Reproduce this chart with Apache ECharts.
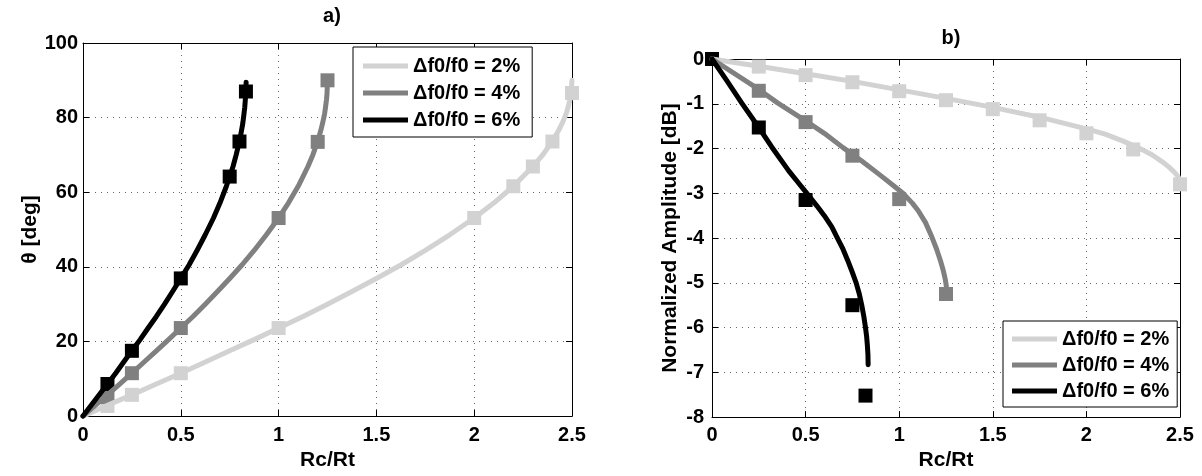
<!DOCTYPE html>
<html>
<head>
<meta charset="utf-8">
<script src="https://cdn.jsdelivr.net/npm/echarts@6/dist/echarts.min.js"></script>
<style>
  html, body { margin: 0; padding: 0; background: #fff; }
  #chart { width: 1202px; height: 476px; }
</style>
</head>
<body>
<div id="chart"></div>
<script>
// Series names (legend entries)
const names = ['Δf0/f0 = 2%', 'Δf0/f0 = 4%', 'Δf0/f0 = 6%'];

// Axis ticks
const rcTicks = [0, 0.5, 1, 1.5, 2, 2.5];
const thetaTicks = [0, 20, 40, 60, 80, 100];
const ampTicks = [-8, -7, -6, -5, -4, -3, -2, -1, 0];

// a) theta vs Rc/Rt — model curves
const thetaLine2 = [[0,0],[0.125,2.9],[0.25,5.7],[0.375,8.6],[0.5,11.5],[0.625,14.5],[0.75,17.5],[0.875,20.5],[1,23.6],[1.125,26.7],[1.25,30],[1.375,33.4],[1.5,36.9],[1.625,40.5],[1.75,44.4],[1.875,48.6],[2,53.1],[2.1,57.1],[2.2,61.6],[2.3,66.9],[2.35,70],[2.4,73.7],[2.43,76.4],[2.45,78.5],[2.47,81],[2.48,82.8],[2.49,84.9],[2.495,86.4],[2.5,90]];
const thetaLine4 = [[0,0],[0.0625,2.9],[0.125,5.7],[0.1875,8.6],[0.25,11.5],[0.3125,14.5],[0.375,17.5],[0.4375,20.5],[0.5,23.6],[0.5625,26.7],[0.625,30],[0.6875,33.4],[0.75,36.9],[0.8125,40.5],[0.875,44.4],[0.9375,48.6],[1,53.1],[1.05,57.1],[1.1,61.6],[1.15,66.9],[1.175,70],[1.2,73.7],[1.215,76.4],[1.225,78.5],[1.235,81],[1.24,82.8],[1.245,84.9],[1.2475,86.4],[1.25,90]];
const thetaLine6 = [[0,0],[0.042,2.9],[0.083,5.7],[0.125,8.6],[0.167,11.5],[0.208,14.5],[0.25,17.5],[0.292,20.5],[0.333,23.6],[0.375,26.7],[0.417,30],[0.458,33.4],[0.5,36.9],[0.542,40.5],[0.583,44.4],[0.625,48.6],[0.667,53.1],[0.7,57.1],[0.733,61.6],[0.767,66.9],[0.783,70],[0.8,73.7],[0.81,76.4],[0.817,78.5],[0.823,81],[0.827,82.8],[0.83,84.9],[0.832,86.4],[0.834,89.5]];

// a) theta vs Rc/Rt — measured points
const thetaPts2 = [[0.125,2.7],[0.25,5.7],[0.5,11.5],[1,23.6],[2,53.1],[2.2,61.6],[2.3,66.9],[2.4,73.6],[2.5,86.6]];
const thetaPts4 = [[0.125,5.1],[0.25,11.5],[0.5,23.6],[1,53.1],[1.2,73.5],[1.25,90]];
const thetaPts6 = [[0.125,8.6],[0.25,17.5],[0.5,36.9],[0.75,64.2],[0.8,73.6],[0.833,87]];

// b) normalized amplitude vs Rc/Rt — model curves
const ampLine2 = [[0,0],[0.25,-0.16],[0.5,-0.33],[0.75,-0.5],[1,-0.69],[1.25,-0.88],[1.5,-1.08],[1.75,-1.3],[2,-1.56],[2.1,-1.68],[2.2,-1.84],[2.3,-2.03],[2.35,-2.14],[2.4,-2.28],[2.44,-2.41],[2.47,-2.53],[2.49,-2.63],[2.5,-2.72]];
const ampLine4 = [[0,0],[0.25,-0.68],[0.35,-0.98],[0.5,-1.38],[0.6,-1.66],[0.7,-1.98],[0.8,-2.28],[0.9,-2.6],[0.97,-2.83],[1.02,-3],[1.07,-3.22],[1.1,-3.38],[1.14,-3.65],[1.17,-3.93],[1.2,-4.25],[1.22,-4.5],[1.235,-4.72],[1.245,-4.9],[1.25,-5.02],[1.253,-5.12]];
const ampLine6 = [[0,0],[0.08,-0.49],[0.16,-0.99],[0.24,-1.47],[0.32,-1.97],[0.41,-2.5],[0.46,-2.76],[0.51,-3.02],[0.56,-3.28],[0.6,-3.5],[0.64,-3.75],[0.67,-4],[0.7,-4.25],[0.725,-4.5],[0.75,-4.77],[0.77,-5],[0.787,-5.25],[0.8,-5.5],[0.811,-5.75],[0.82,-6],[0.826,-6.2],[0.83,-6.4],[0.833,-6.6],[0.834,-6.83]];

// b) normalized amplitude vs Rc/Rt — measured points
const ampPts2 = [[0,0],[0.25,-0.17],[0.5,-0.36],[0.75,-0.52],[1,-0.72],[1.25,-0.92],[1.5,-1.12],[1.75,-1.37],[2,-1.66],[2.25,-2.02],[2.5,-2.8]];
const ampPts4 = [[0,0],[0.25,-0.71],[0.5,-1.41],[0.75,-2.16],[1,-3.13],[1.25,-5.25]];
const ampPts6 = [[0,0],[0.25,-1.53],[0.5,-3.15],[0.75,-5.5],[0.82,-7.52]];

const colors = ['#d2d2d2', '#808080', '#000000'];
const FONT = '"Liberation Sans", Arial, Helvetica, sans-serif';
const LINE_W = 5;
const MARK = 14;

function span(ticks) {
  return { min: ticks[0], max: ticks[ticks.length - 1], interval: ticks[1] - ticks[0] };
}

function labelStyle(margin) {
  return { color: '#000', fontFamily: FONT, fontWeight: 'bold', fontSize: 20, margin: margin };
}

function mainAxis(ticks, gridIndex, pos, extra) {
  const s = span(ticks);
  return Object.assign({
    type: 'value', gridIndex: gridIndex, position: pos,
    min: s.min, max: s.max, interval: s.interval,
    axisLine: { show: true, onZero: false, lineStyle: { color: '#000', width: 1 } },
    axisTick: { show: true, inside: true, length: 6, lineStyle: { color: '#000' } },
    axisLabel: labelStyle(6),
    splitLine: { show: true, lineStyle: { color: '#666', width: 1, type: [1, 5] } },
    nameTextStyle: { color: '#000', fontFamily: FONT, fontWeight: 'bold', fontSize: 21 },
    nameLocation: 'middle'
  }, extra || {});
}

function mirrorAxis(ticks, gridIndex, pos) {
  const s = span(ticks);
  return {
    type: 'value', gridIndex: gridIndex, position: pos,
    min: s.min, max: s.max, interval: s.interval,
    axisLine: { show: true, onZero: false, lineStyle: { color: '#000', width: 1 } },
    axisTick: { show: true, inside: true, length: 6, lineStyle: { color: '#000' } },
    axisLabel: { show: false },
    splitLine: { show: false }
  };
}

function lineSeries(name, data, color, xi, yi) {
  return {
    name: name, type: 'line', data: data, xAxisIndex: xi, yAxisIndex: yi,
    showSymbol: false, smooth: false, clip: false,
    lineStyle: { color: color, width: LINE_W, cap: 'round', join: 'round' },
    itemStyle: { color: color }, animation: false, silent: true
  };
}

function pointSeries(data, color, xi, yi) {
  return {
    type: 'scatter', data: data, xAxisIndex: xi, yAxisIndex: yi,
    symbol: 'rect', symbolSize: MARK, clip: false,
    itemStyle: { color: color, opacity: 1 }, animation: false, silent: true
  };
}

const legendCommon = {
  orient: 'vertical', icon: 'rect', itemWidth: 45, itemHeight: 5, itemGap: 7,
  borderColor: '#000', borderWidth: 1, borderRadius: 0, backgroundColor: '#fff',
  textStyle: { color: '#000', fontFamily: FONT, fontWeight: 'bold', fontSize: 20 },
  selectedMode: false
};

const titleStyle = { color: '#000', fontFamily: FONT, fontWeight: 'bold', fontSize: 20 };

const option = {
  backgroundColor: '#fff',
  animation: false,
  title: [
    { text: 'a)', left: 327, top: 1, textAlign: 'center', textStyle: titleStyle },
    { text: 'b)', left: 946, top: 23, textAlign: 'center', textStyle: titleStyle }
  ],
  grid: [
    { left: 83, top: 43, width: 489, height: 379, show: false },
    { left: 712, top: 59, width: 468, height: 365, show: false }
  ],
  xAxis: [
    mainAxis(rcTicks, 0, 'bottom', { name: 'Rc/Rt', nameGap: 33, axisLabel: labelStyle(9) }),
    mirrorAxis(rcTicks, 0, 'top'),
    mainAxis(rcTicks, 1, 'bottom', { name: 'Rc/Rt', nameGap: 31, axisLabel: labelStyle(8) }),
    mirrorAxis(rcTicks, 1, 'top')
  ],
  yAxis: [
    mainAxis(thetaTicks, 0, 'left', { name: 'θ [deg]', nameGap: 40, nameRotate: 90, axisLabel: labelStyle(5) }),
    mirrorAxis(thetaTicks, 0, 'right'),
    mainAxis(ampTicks, 1, 'left', { name: 'Normalized Amplitude [dB]', nameGap: 31, nameRotate: 90, axisLabel: labelStyle(8) }),
    mirrorAxis(ampTicks, 1, 'right')
  ],
  legend: [
    Object.assign({}, legendCommon, { data: names.slice(), left: 353, top: 47, padding: [9, 12, 7, 10] }),
    Object.assign({}, legendCommon, { data: names.slice(), left: 1003, top: 321, padding: [8, 8, 6, 9], itemGap: 6 })
  ],
  series: [
    lineSeries(names[0], thetaLine2, colors[0], 0, 0),
    pointSeries(thetaPts2, colors[0], 0, 0),
    lineSeries(names[1], thetaLine4, colors[1], 0, 0),
    pointSeries(thetaPts4, colors[1], 0, 0),
    lineSeries(names[2], thetaLine6, colors[2], 0, 0),
    pointSeries(thetaPts6, colors[2], 0, 0),
    lineSeries(names[0], ampLine2, colors[0], 2, 2),
    pointSeries(ampPts2, colors[0], 2, 2),
    lineSeries(names[1], ampLine4, colors[1], 2, 2),
    pointSeries(ampPts4, colors[1], 2, 2),
    lineSeries(names[2], ampLine6, colors[2], 2, 2),
    pointSeries(ampPts6, colors[2], 2, 2)
  ]
};

const chart = echarts.init(document.getElementById('chart'), null, { renderer: 'canvas' });
chart.setOption(option);
</script>
</body>
</html>
